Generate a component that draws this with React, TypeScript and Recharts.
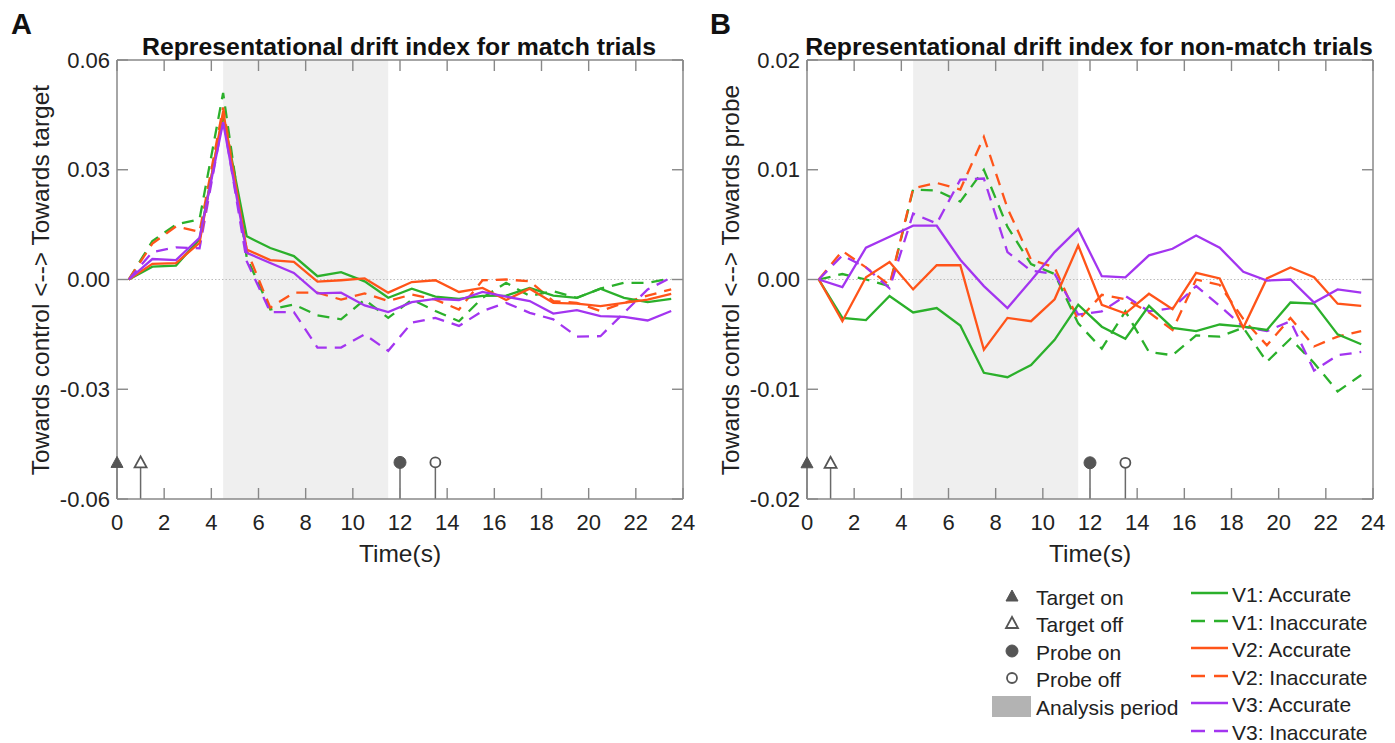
import React from "react";
import {
  ComposedChart,
  Line,
  XAxis,
  YAxis,
  ReferenceArea,
  ReferenceLine,
  ReferenceDot,
} from "recharts";

const FONT = '"Liberation Sans", Arial, Helvetica, sans-serif';
const AXIS = "#888888";
const TEXT = "#222222";
const MARK = "#555555";
const TICK_PX = 11;

const GREEN = "#2bb02b";
const ORANGE = "#ff5419";
const PURPLE = "#a335f0";

// chart box and margins (plot area = 117..683 x 60..499 inside each panel)
const CHART_W = 700;
const CHART_H = 600;
const MARGIN = { top: 58, right: 15, bottom: 71, left: 57 };
const Y_AXIS_W = 60;
const X_AXIS_H = 30;
const EDGE_AXIS = 2;
const PANEL_B_LEFT = 690;

// time bins (s)
const times = [
  0.5, 1.5, 2.5, 3.5, 4.5, 5.5, 6.5, 7.5, 8.5, 9.5, 10.5, 11.5,
  12.5, 13.5, 14.5, 15.5, 16.5, 17.5, 18.5, 19.5, 20.5, 21.5, 22.5, 23.5,
];
const xTicks = [0, 2, 4, 6, 8, 10, 12, 14, 16, 18, 20, 22, 24];
const xDomain = [0, 24];

// analysis period
const analysisStart = 4.5;
const analysisEnd = 11.5;

// task events
const eventTimes = [0, 1, 12, 13.5];
const eventKinds = ["targetOn", "targetOff", "probeOn", "probeOff"];

// A: match trials
const matchTicks = [-0.06, -0.03, 0, 0.03, 0.06];
const matchTickLabels = ["-0.06", "-0.03", "0.00", "0.03", "0.06"];
const matchEventLevel = -0.05;
const matchV1Acc = [0, 0.0035, 0.0038, 0.011, 0.045, 0.0118, 0.0086, 0.0064, 0.0009, 0.002, -0.0005, -0.005, -0.0025, -0.0047, -0.0053, -0.0045, -0.0044, -0.0023, -0.0044, -0.005, -0.0025, -0.005, -0.0062, -0.0053];
const matchV1Inacc = [0, 0.0105, 0.015, 0.0165, 0.051, 0.006, -0.0082, -0.0068, -0.0098, -0.0109, -0.0055, -0.0105, -0.0055, -0.0086, -0.0114, -0.005, -0.0009, -0.0045, -0.0032, -0.005, -0.0025, -0.0009, -0.0009, 0.0003];
const matchV2Acc = [0, 0.0043, 0.0045, 0.01, 0.046, 0.0082, 0.0053, 0.0048, -0.0006, -0.0002, 0.0003, -0.0036, -0.0007, -0.0002, -0.0034, -0.0023, -0.0056, -0.0025, -0.0064, -0.0066, -0.0073, -0.0064, -0.0055, -0.0039];
const matchV2Inacc = [0, 0.0098, 0.0145, 0.013, 0.047, 0.008, -0.0077, -0.0036, -0.0036, -0.0055, -0.0038, -0.0059, -0.0041, -0.0055, -0.0082, -0.0002, 0, -0.0005, -0.0059, -0.0064, -0.0086, -0.0064, -0.0044, -0.0027];
const matchV3Acc = [0, 0.0056, 0.0053, 0.0114, 0.043, 0.0073, 0.0045, 0.0018, -0.0038, -0.0036, -0.0071, -0.0089, -0.0062, -0.0053, -0.0056, -0.0034, -0.0047, -0.0059, -0.0093, -0.0084, -0.01, -0.0102, -0.0112, -0.0086];
const matchV3Inacc = [0, 0.0075, 0.0088, 0.0085, 0.044, 0.005, -0.0089, -0.0089, -0.0186, -0.0186, -0.015, -0.0195, -0.0118, -0.0105, -0.0127, -0.0086, -0.0064, -0.0091, -0.0109, -0.0156, -0.0155, -0.0091, -0.0027, 0.0005];

// B: non-match trials
const nonMatchTicks = [-0.02, -0.01, 0, 0.01, 0.02];
const nonMatchTickLabels = ["-0.02", "-0.01", "0.00", "0.01", "0.02"];
const nonMatchEventLevel = -0.0167;
const nonMatchV1Acc = [0, -0.0035, -0.0037, -0.0015, -0.003, -0.0026, -0.0042, -0.0085, -0.0089, -0.0078, -0.0055, -0.0023, -0.0043, -0.0054, -0.0024, -0.0044, -0.0047, -0.0041, -0.0043, -0.0046, -0.0021, -0.0022, -0.005, -0.0059];
const nonMatchV1Inacc = [0, 0.0005, 0, -0.0006, 0.0082, 0.0081, 0.0071, 0.01, 0.0048, 0.0014, 0.0005, -0.004, -0.0063, -0.0029, -0.0066, -0.0069, -0.0051, -0.0052, -0.0044, -0.0075, -0.0054, -0.0076, -0.0102, -0.0087];
const nonMatchV2Acc = [0, -0.0038, 0.0002, 0.0016, -0.0009, 0.0013, 0.0013, -0.0064, -0.0035, -0.0038, -0.0018, 0.0031, -0.0023, -0.0031, -0.0013, -0.0027, 0.0006, 0.0001, -0.0044, 0.0001, 0.0011, 0.0002, -0.0022, -0.0024];
const nonMatchV2Inacc = [0, 0.0026, 0.0011, -0.0005, 0.0083, 0.0088, 0.0082, 0.013, 0.0065, 0.0018, 0.0011, -0.0037, -0.0014, -0.0018, -0.003, -0.0046, 0, -0.0005, -0.0036, -0.006, -0.0035, -0.0061, -0.0052, -0.0047];
const nonMatchV3Acc = [0, -0.0007, 0.0029, 0.0039, 0.0049, 0.0049, 0.0018, -0.0006, -0.0026, -0.0001, 0.0025, 0.0046, 0.0003, 0.0002, 0.0022, 0.0028, 0.004, 0.0029, 0.0007, -0.0001, 0, -0.0021, -0.0009, -0.0012];
const nonMatchV3Inacc = [0, 0.0022, 0.0011, -0.0008, 0.006, 0.0051, 0.0091, 0.0092, 0.0025, 0.0008, 0.0005, -0.0032, -0.0029, -0.0015, -0.0029, -0.0026, -0.0006, -0.0024, -0.0043, -0.0047, -0.0038, -0.0083, -0.0069, -0.0066];

const seriesStyle = [
  { key: "v1i", color: GREEN, dashed: true, label: "V1: Inaccurate" },
  { key: "v2i", color: ORANGE, dashed: true, label: "V2: Inaccurate" },
  { key: "v3i", color: PURPLE, dashed: true, label: "V3: Inaccurate" },
  { key: "v1a", color: GREEN, dashed: false, label: "V1: Accurate" },
  { key: "v2a", color: ORANGE, dashed: false, label: "V2: Accurate" },
  { key: "v3a", color: PURPLE, dashed: false, label: "V3: Accurate" },
];

function buildRows(v1a: number[], v1i: number[], v2a: number[], v2i: number[], v3a: number[], v3i: number[]) {
  return times.map((t, i) => ({
    t,
    v1a: v1a[i],
    v1i: v1i[i],
    v2a: v2a[i],
    v2i: v2i[i],
    v3a: v3a[i],
    v3i: v3i[i],
  }));
}

function EventMarker(props: any) {
  const { cx, cy, kind } = props;
  if (cx == null || cy == null) return null;
  if (kind === "targetOn" || kind === "targetOff") {
    const filled = kind === "targetOn";
    const pts = `${cx},${cy - 6} ${cx - 6},${cy + 5} ${cx + 6},${cy + 5}`;
    return (
      <polygon
        points={pts}
        fill={filled ? MARK : "#fff"}
        stroke={MARK}
        strokeWidth={filled ? 1 : 1.8}
      />
    );
  }
  const filled = kind === "probeOn";
  return (
    <circle
      cx={cx}
      cy={cy}
      r={filled ? 6 : 5}
      fill={filled ? MARK : "#fff"}
      stroke={MARK}
      strokeWidth={filled ? 1 : 1.8}
    />
  );
}

const axisLineStyle = { stroke: AXIS, strokeWidth: 1.5 };

function Panel(props: {
  rows: any[];
  yTicks: number[];
  yLabels: string[];
  eventLevel: number;
}) {
  const { rows, yTicks, yLabels, eventLevel } = props;
  const yDomain = [yTicks[0], yTicks[yTicks.length - 1]];

  const bottomTick = (p: any) => (
    <text x={p.x} y={p.y + 23} textAnchor="middle" dominantBaseline="central" fontSize={22} fill={TEXT} fontFamily={FONT}>
      {p.payload.value}
    </text>
  );
  const leftTick = (p: any) => (
    <text x={p.x - 7} y={p.y} textAnchor="end" dominantBaseline="central" fontSize={22} fill={TEXT} fontFamily={FONT}>
      {yLabels[yTicks.indexOf(p.payload.value)]}
    </text>
  );

  return (
    <ComposedChart width={CHART_W} height={CHART_H} data={rows} margin={MARGIN}>
      <ReferenceArea
        x1={analysisStart}
        x2={analysisEnd}
        y1={yDomain[0]}
        y2={yDomain[1]}
        fill="#efefef"
        fillOpacity={1}
        stroke="none"
      />
      <XAxis
        dataKey="t"
        type="number"
        domain={xDomain}
        ticks={xTicks}
        height={X_AXIS_H}
        tickSize={0}
        tickMargin={0}
        tick={bottomTick}
        tickLine={false}
        axisLine={axisLineStyle}
        interval={0}
        allowDataOverflow
      />
      <XAxis
        xAxisId="top"
        orientation="top"
        type="number"
        domain={xDomain}
        ticks={xTicks}
        height={EDGE_AXIS}
        tick={false}
        tickLine={false}
        axisLine={axisLineStyle}
        allowDataOverflow
      />
      <YAxis
        type="number"
        domain={yDomain}
        ticks={yTicks}
        width={Y_AXIS_W}
        tickSize={0}
        tickMargin={0}
        tick={leftTick}
        tickLine={false}
        axisLine={axisLineStyle}
        interval={0}
        allowDataOverflow
      />
      <YAxis
        yAxisId="right"
        orientation="right"
        type="number"
        domain={yDomain}
        ticks={yTicks}
        width={EDGE_AXIS}
        tick={false}
        tickLine={false}
        axisLine={axisLineStyle}
        allowDataOverflow
      />
      <ReferenceLine y={0} stroke="#bdbdbd" strokeWidth={1} strokeDasharray="1.5 2" />
      {eventTimes.map((t) => (
        <ReferenceLine
          key={"stem" + t}
          segment={[
            { x: t, y: yDomain[0] },
            { x: t, y: eventLevel },
          ]}
          stroke="#6a6a6a"
          strokeWidth={1.5}
        />
      ))}
      {seriesStyle.map((s) => (
        <Line
          key={s.key}
          type="linear"
          dataKey={s.key}
          stroke={s.color}
          strokeWidth={2.3}
          strokeDasharray={s.dashed ? "12 8" : undefined}
          dot={false}
          activeDot={false}
          isAnimationActive={false}
        />
      ))}
      {eventTimes.map((t, i) => (
        <ReferenceDot
          key={"ev" + t}
          x={t}
          y={eventLevel}
          shape={(p: any) => <EventMarker {...p} kind={eventKinds[i]} />}
        />
      ))}
    </ComposedChart>
  );
}

// inward tick marks on all four sides of a panel's frame
function FrameTicks(props: { offsetX: number; yTicks: number[] }) {
  const { offsetX, yTicks } = props;
  const left = offsetX + MARGIN.left + Y_AXIS_W;
  const right = offsetX + CHART_W - MARGIN.right - EDGE_AXIS;
  const top = MARGIN.top + EDGE_AXIS;
  const bottom = CHART_H - MARGIN.bottom - X_AXIS_H;
  const y0 = yTicks[0];
  const y1 = yTicks[yTicks.length - 1];
  const px = (t: number) => left + ((t - xDomain[0]) / (xDomain[1] - xDomain[0])) * (right - left);
  const py = (v: number) => bottom - ((v - y0) / (y1 - y0)) * (bottom - top);
  return (
    <g stroke={AXIS} strokeWidth={1.4}>
      {xTicks.map((t) => (
        <g key={"x" + t}>
          <line x1={px(t)} x2={px(t)} y1={bottom} y2={bottom - TICK_PX} />
          <line x1={px(t)} x2={px(t)} y1={top} y2={top + TICK_PX} />
        </g>
      ))}
      {yTicks.map((v) => (
        <g key={"y" + v}>
          <line x1={left} x2={left + TICK_PX} y1={py(v)} y2={py(v)} />
          <line x1={right} x2={right - TICK_PX} y1={py(v)} y2={py(v)} />
        </g>
      ))}
    </g>
  );
}

function Legend() {
  const leftRows = [
    { kind: "targetOn", label: "Target on", y: 596 },
    { kind: "targetOff", label: "Target off", y: 623 },
    { kind: "probeOn", label: "Probe on", y: 651 },
    { kind: "probeOff", label: "Probe off", y: 678 },
  ];
  const rightOrder = ["v1a", "v1i", "v2a", "v2i", "v3a", "v3i"];
  const rightY = [593, 621, 648, 676, 703, 731];
  return (
    <g fontFamily={FONT} fontSize={21} fill={TEXT}>
      {leftRows.map((r) => (
        <g key={r.kind}>
          <EventMarker cx={1012} cy={r.y} kind={r.kind} />
          <text x={1036} y={r.y + 1} dominantBaseline="central">
            {r.label}
          </text>
        </g>
      ))}
      <rect x={992} y={696} width={39} height={21} fill="#b3b3b3" />
      <text x={1036} y={707} dominantBaseline="central">
        Analysis period
      </text>
      {rightOrder.map((k, i) => {
        const s = seriesStyle.find((d) => d.key === k)!;
        return (
          <g key={k}>
            <line
              x1={1191}
              x2={1228}
              y1={rightY[i]}
              y2={rightY[i]}
              stroke={s.color}
              strokeWidth={2.3}
              strokeDasharray={s.dashed ? "14 9" : undefined}
            />
            <text x={1232} y={rightY[i] + 1} dominantBaseline="central">
              {s.label}
            </text>
          </g>
        );
      })}
    </g>
  );
}

export default function App() {
  const matchRows = buildRows(matchV1Acc, matchV1Inacc, matchV2Acc, matchV2Inacc, matchV3Acc, matchV3Inacc);
  const nonMatchRows = buildRows(nonMatchV1Acc, nonMatchV1Inacc, nonMatchV2Acc, nonMatchV2Inacc, nonMatchV3Acc, nonMatchV3Inacc);

  return (
    <div style={{ position: "absolute", left: 0, top: 0, width: 1395, height: 743, background: "#fff", overflow: "hidden" }}>
      <div style={{ position: "absolute", left: 0, top: 0 }}>
        <Panel rows={matchRows} yTicks={matchTicks} yLabels={matchTickLabels} eventLevel={matchEventLevel} />
      </div>
      <div style={{ position: "absolute", left: PANEL_B_LEFT, top: 0 }}>
        <Panel rows={nonMatchRows} yTicks={nonMatchTicks} yLabels={nonMatchTickLabels} eventLevel={nonMatchEventLevel} />
      </div>
      <svg width={1395} height={743} style={{ position: "absolute", left: 0, top: 0, pointerEvents: "none" }}>
        <FrameTicks offsetX={0} yTicks={matchTicks} />
        <FrameTicks offsetX={PANEL_B_LEFT} yTicks={nonMatchTicks} />
        <g fontFamily={FONT} fill="#111">
          <text x={11} y={34} fontSize={29} fontWeight="bold">A</text>
          <text x={710} y={34} fontSize={29} fontWeight="bold">B</text>
          <text x={399} y={46} fontSize={24.8} fontWeight="bold" textAnchor="middle" dominantBaseline="central">
            Representational drift index for match trials
          </text>
          <text x={1089} y={46} fontSize={24.8} fontWeight="bold" textAnchor="middle" dominantBaseline="central">
            Representational drift index for non-match trials
          </text>
        </g>
        <g fontFamily={FONT} fill={TEXT} fontSize={24.5}>
          <text x={40} y={280} textAnchor="middle" dominantBaseline="central" transform="rotate(-90 40 280)">
            {"Towards control <--> Towards target"}
          </text>
          <text x={730} y={280} textAnchor="middle" dominantBaseline="central" transform="rotate(-90 730 280)">
            {"Towards control <--> Towards probe"}
          </text>
          <text x={400} y={553} textAnchor="middle" dominantBaseline="central">Time(s)</text>
          <text x={1090} y={553} textAnchor="middle" dominantBaseline="central">Time(s)</text>
        </g>
        <Legend />
      </svg>
    </div>
  );
}
